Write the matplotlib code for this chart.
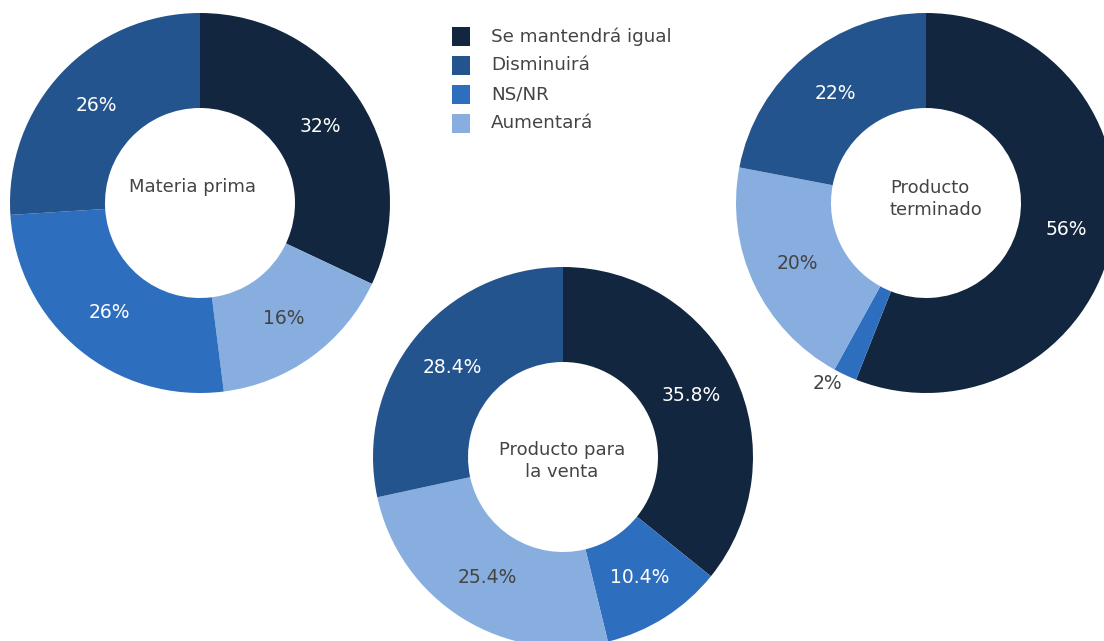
import matplotlib.pyplot as plt
from matplotlib.patches import Rectangle
import numpy as np

# legend order
categories = ["Se mantendrá igual", "Disminuirá", "NS/NR", "Aumentará"]
colors = {"Se mantendrá igual": "#12263f", "Disminuirá": "#24548e",
          "NS/NR": "#2e6ebe", "Aumentará": "#87aedf"}

# slices in clockwise order from 12 o'clock
materia_cats = ["Se mantendrá igual", "Aumentará", "NS/NR", "Disminuirá"]
materia_vals = [32, 16, 26, 26]

venta_cats = ["Se mantendrá igual", "NS/NR", "Aumentará", "Disminuirá"]
venta_vals = [35.8, 10.4, 25.4, 28.4]

terminado_cats = ["Se mantendrá igual", "NS/NR", "Aumentará", "Disminuirá"]
terminado_vals = [56, 2, 20, 22]

W, H = 1104, 641
R = 190  # outer radius in px
PAD = 200
TXT = "#444444"

fig = plt.figure(figsize=(W / 100, H / 100), dpi=100)


def donut(cx, cy, cats, vals, title, tx, ty, ha="center"):
    ax = fig.add_axes([(cx - PAD) / W, (H - cy - PAD) / H, 2 * PAD / W, 2 * PAD / H])
    ax.pie(vals, colors=[colors[c] for c in cats], startangle=90, counterclock=False,
           radius=1, wedgeprops=dict(width=0.5, linewidth=0))
    lim = PAD / R
    ax.set_xlim(-lim, lim)
    ax.set_ylim(-lim, lim)
    ax.axis("off")
    total = sum(vals)
    start = 90.0
    for c, v in zip(cats, vals):
        ang = np.deg2rad(start - 360 * v / total / 2)
        start -= 360 * v / total
        lab = f"{v:g}%"
        col = TXT if c == "Aumentará" else "white"
        if v / total < 0.05:
            # small slice: label outside
            ax.text(1.04 * np.cos(ang), 1.03 * np.sin(ang) - 0.02, lab, ha="right", va="center",
                    fontsize=13.5, color=TXT)
        else:
            ax.text(0.75 * np.cos(ang), 0.75 * np.sin(ang), lab, ha="center", va="center",
                    fontsize=13.5, color=col)
    ax.text(tx, ty, title, ha=ha, va="center", fontsize=13, color=TXT,
            linespacing=1.3, multialignment=ha)
    return ax


donut(200, 203, materia_cats, materia_vals, "Materia prima", -0.04, 0.084)
donut(563, 457, venta_cats, venta_vals, "Producto para\nla venta", -0.005, -0.02)
donut(926, 203, terminado_cats, terminado_vals, "Producto\nterminado", -0.19, 0.02, ha="left")

# legend
for i, c in enumerate(categories):
    yc = 36.5 + i * 29
    fig.add_artist(Rectangle((452 / W, (H - yc - 9) / H), 18 / W, 18 / H,
                             transform=fig.transFigure, color=colors[c], linewidth=0))
    fig.text(491 / W, (H - yc) / H, c, ha="left", va="center", fontsize=13.2, color=TXT)

plt.savefig("out.png", dpi=100)
